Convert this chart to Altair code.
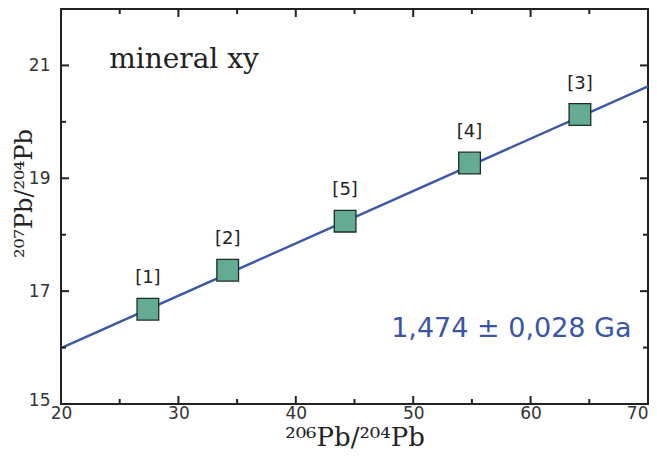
import altair as alt
import pandas as pd

# data
labels = ["[1]", "[2]", "[5]", "[4]", "[3]"]
x_vals = [27.4, 34.2, 44.2, 54.8, 64.2]
y_vals = [16.68, 17.37, 18.24, 19.27, 20.13]

line_x = [20, 70]
line_y = [15.99, 20.63]

x_major = [30, 40, 50, 60]
x_minor = [25, 35, 45, 55, 65]
y_major = [17, 19, 21]
y_minor = [16, 18, 20]

x_labels = [20, 30, 40, 50, 60, 70]
y_labels = [15, 17, 19, 21]

W, H = 587, 395

pts = pd.DataFrame({"x": x_vals, "y": y_vals, "label": labels})
line_df = pd.DataFrame({"x": line_x, "y": line_y})

xs = alt.Scale(domain=[20, 70], nice=False, zero=False)
ys = alt.Scale(domain=[15, 22], nice=False, zero=False)

xaxis = alt.Axis(values=x_labels, ticks=False, domain=False, grid=False, format="d",
                 labelFlush=False,
                 labelAlign={"condition": {"test": "datum.value == 70", "value": "right"},
                             "value": "center"},
                 labelFont="DejaVu Sans", labelFontSize=17, labelColor="#333",
                 labelPadding=1, title="²⁰⁶Pb/²⁰⁴Pb", titleFont="DejaVu Serif",
                 titleFontSize=26, titleFontWeight="normal", titleColor="#222",
                 titlePadding=3)
yaxis = alt.Axis(values=y_labels, ticks=False, domain=False, grid=False, format="d",
                 labelFlush=False,
                 labelOffset={"condition": {"test": "datum.value == 15", "value": -4},
                              "value": 0},
                 labelFont="DejaVu Sans", labelFontSize=17, labelColor="#333",
                 labelPadding=11, title="²⁰⁷Pb/²⁰⁴Pb", titleFont="DejaVu Serif",
                 titleFontSize=24, titleFontWeight="normal", titleColor="#222",
                 titleAngle=-90, titleX=-30, titleY=184, titleBaseline="alphabetic",
                 titleAlign="center")

line = alt.Chart(line_df).mark_line(color="#3b58a8", strokeWidth=2.4).encode(
    x=alt.X("x:Q", scale=xs, axis=xaxis),
    y=alt.Y("y:Q", scale=ys, axis=yaxis),
)

squares = alt.Chart(pts).mark_square(size=470, fill="#63ab93", fillOpacity=1,
                                     stroke="#1e2b2a", strokeWidth=1.3).encode(
    x=alt.X("x:Q", scale=xs), y=alt.Y("y:Q", scale=ys))

lab = alt.Chart(pts).mark_text(font="DejaVu Sans", fontSize=18, color="#222",
                               dy=-31).encode(
    x=alt.X("x:Q", scale=xs), y=alt.Y("y:Q", scale=ys), text="label:N")

def xticks(vals, length):
    df = pd.DataFrame({"x": vals})
    b = alt.Chart(df).mark_rule(color="#222", strokeWidth=2).encode(
        x=alt.X("x:Q", scale=xs), y=alt.value(H), y2=alt.value(H - length))
    t = alt.Chart(df).mark_rule(color="#222", strokeWidth=2).encode(
        x=alt.X("x:Q", scale=xs), y=alt.value(0), y2=alt.value(length))
    return [b, t]

def yticks(vals, length):
    df = pd.DataFrame({"y": vals})
    l = alt.Chart(df).mark_rule(color="#222", strokeWidth=2).encode(
        y=alt.Y("y:Q", scale=ys), x=alt.value(0), x2=alt.value(length))
    r = alt.Chart(df).mark_rule(color="#222", strokeWidth=2).encode(
        y=alt.Y("y:Q", scale=ys), x=alt.value(W), x2=alt.value(W - length))
    return [l, r]

ticks = xticks(x_major, 8) + xticks(x_minor, 5) + yticks(y_major, 8) + yticks(y_minor, 5)

t1 = alt.Chart(pd.DataFrame({"x": [24.1], "y": [21.09], "t": ["mineral xy"]})).mark_text(
    font="DejaVu Serif", fontSize=28, color="#222", align="left", baseline="middle").encode(
    x=alt.X("x:Q", scale=xs), y=alt.Y("y:Q", scale=ys), text="t:N")

t2 = alt.Chart(pd.DataFrame({"x": [68.6], "y": [16.33], "t": ["1,474 ± 0,028 Ga"]})).mark_text(
    font="DejaVu Sans", fontSize=27, color="#3a55a6", align="right", baseline="middle").encode(
    x=alt.X("x:Q", scale=xs), y=alt.Y("y:Q", scale=ys), text="t:N")

chart = alt.layer(line, *ticks, squares, lab, t1, t2).properties(
    width=W, height=H,
    background="white",
    autosize=alt.AutoSizeParams(type="none"),
    padding={"left": 53, "top": 1, "right": 1, "bottom": 49},
).configure_view(stroke="#222", strokeWidth=2)

chart.save("out.html", embed_options={"renderer": "svg", "actions": False})
